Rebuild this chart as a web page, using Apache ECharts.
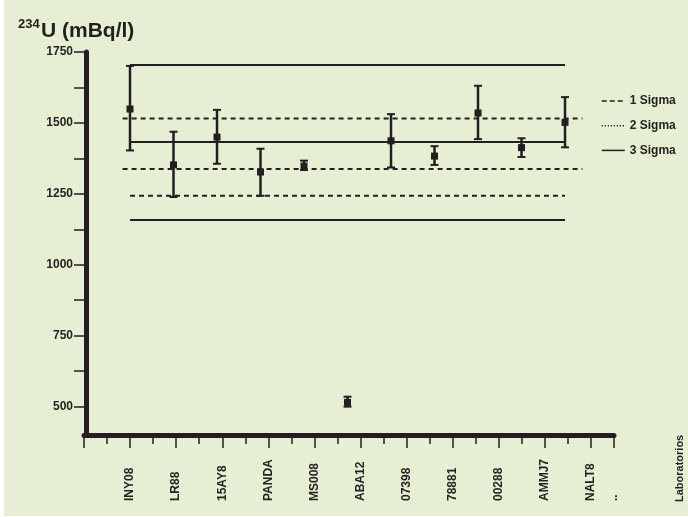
<!DOCTYPE html>
<html>
<head>
<meta charset="utf-8">
<script src="https://cdn.jsdelivr.net/npm/echarts@6/dist/echarts.min.js"></script>
<style>
html, body { margin: 0; padding: 0; background: #fff; }
#chart { position: absolute; left: 4px; top: 0; width: 684px; height: 516px; background: #e6efd4; }
</style>
</head>
<body>
<div id="chart"></div>
<script>
// laboratorios
const labs = ['INY08', 'LR88', '15AY8', 'PANDA', 'MS008', 'ABA12', '07398', '78881', '00288', 'AMMJ7', 'NALT8'];
const tailLabel = '..';
// 234U (mBq/l): limite inferior, valor, limite superior
const lower = [1403, 1239, 1356, 1243, 1334, 500, 1343, 1352, 1443, 1380, 1414];
const value = [1549, 1352, 1450, 1327, 1348, 515, 1437, 1383, 1535, 1413, 1502];
const upper = [1701, 1469, 1546, 1409, 1367, 535, 1531, 1418, 1631, 1446, 1591];
// lineas de referencia
const mean = 1433;
const sigma1 = [1516, 1338];
const sigma2 = [1243];
const sigma3 = [1704, 1158];
// ticks eje y
const yTicks = [500, 625, 750, 875, 1000, 1125, 1250, 1375, 1500, 1625, 1750];
const yLabels = [500, 750, 1000, 1250, 1500, 1750];

const ink = '#231f20';
const font = '"Liberation Sans", Arial, sans-serif';

// 24 posiciones de tick: etiqueta en las pares, '..' al final
const cats = [];
for (let j = 0; j < 24; j++) {
    if (j === 23) cats.push(tailLabel);
    else if (j >= 2 && j % 2 === 0) cats.push(labs[j / 2 - 1]);
    else cats.push('_' + j);
}

const spanShort = [0, labs.length - 1];
const spanLong = [-0.17, labs.length - 0.6];

function refLine(name, y, span, type) {
    return {
        type: 'line', name: name, xAxisIndex: 2, yAxisIndex: 0,
        data: [[span[0], y], [span[1], y]],
        symbol: 'none', silent: true,
        itemStyle: { color: ink },
        lineStyle: { color: ink, width: 2, type: type }
    };
}

const series = [
    refLine('3 Sigma', sigma3[0], spanShort, 'solid'),
    refLine('3 Sigma', mean, spanShort, 'solid'),
    refLine('3 Sigma', sigma3[1], spanShort, 'solid'),
    refLine('1 Sigma', sigma1[0], spanLong, [5, 4]),
    refLine('1 Sigma', sigma1[1], spanLong, [5, 4]),
    refLine('2 Sigma', sigma2[0], spanShort, [5, 4]),
    {
        type: 'custom', name: 'labs', xAxisIndex: 2, yAxisIndex: 0,
        encode: { x: 0, y: [1, 2, 3] },
        data: labs.map((n, i) => [i, lower[i], value[i], upper[i]]),
        renderItem: function (params, api) {
            const x = api.value(0);
            const lo = api.coord([x, api.value(1)]);
            const mid = api.coord([x, api.value(2)]);
            const hi = api.coord([x, api.value(3)]);
            const cap = 4;
            return {
                type: 'group',
                children: [
                    { type: 'line', shape: { x1: hi[0], y1: hi[1], x2: lo[0], y2: lo[1] }, style: { stroke: ink, lineWidth: 2.5 } },
                    { type: 'line', shape: { x1: hi[0] - cap, y1: hi[1], x2: hi[0] + cap, y2: hi[1] }, style: { stroke: ink, lineWidth: 2 } },
                    { type: 'line', shape: { x1: lo[0] - cap, y1: lo[1], x2: lo[0] + cap, y2: lo[1] }, style: { stroke: ink, lineWidth: 2 } },
                    { type: 'rect', shape: { x: mid[0] - 3.5, y: mid[1] - 3.5, width: 7, height: 7 }, style: { fill: ink } }
                ]
            };
        }
    }
];

const option = {
    animation: false,
    textStyle: { fontFamily: font },
    grid: { left: 80, right: 74, top: 52, bottom: 81, outerBoundsMode: 'none' },
    legend: {
        orient: 'vertical',
        left: 592,
        top: 90,
        itemWidth: 23,
        itemHeight: 14,
        itemGap: 12.7,
        selectedMode: false,
        itemStyle: { opacity: 0 },
        textStyle: { color: ink, fontWeight: 'bold', fontSize: 12, fontFamily: font },
        data: [
            { name: '1 Sigma', lineStyle: { type: [5, 3], width: 1.5 } },
            { name: '2 Sigma', lineStyle: { type: [1.2, 1.8], width: 1.5 } },
            { name: '3 Sigma', lineStyle: { width: 1.5 } }
        ]
    },
    graphic: [
        { type: 'text', left: 14, top: 18, style: { text: '234', fill: ink, font: 'bold 13px ' + font } },
        { type: 'text', left: 37, top: 21, style: { text: 'U (mBq/l)', fill: ink, font: 'bold 21px ' + font } },
        {
            type: 'text', x: 676, y: 502, rotation: Math.PI / 2,
            style: { text: 'Laboratorios', fill: ink, font: 'bold 11px ' + font, textAlign: 'left', textVerticalAlign: 'middle' }
        }
    ],
    xAxis: [
        {
            type: 'category', data: cats, boundaryGap: false, position: 'bottom',
            axisLine: { onZero: false, lineStyle: { color: ink, width: 5 } },
            axisTick: { interval: 0, length: 9, lineStyle: { color: ink, width: 1.5 } },
            axisLabel: {
                interval: 0, rotate: 90, align: 'left', margin: 66,
                color: ink, fontWeight: 'bold', fontSize: 12, fontFamily: font,
                formatter: v => (v.charAt(0) === '_' ? '' : v)
            },
            splitLine: { show: false }
        },
        {
            type: 'category', data: cats, boundaryGap: false, position: 'bottom',
            axisLine: { show: false, onZero: false },
            axisTick: { interval: i => i % 2 === 0 || i === 23, length: 13, lineStyle: { color: ink, width: 1.5 } },
            axisLabel: { show: false },
            splitLine: { show: false }
        },
        { type: 'value', show: false, min: -1.0575, max: 11.126 }
    ],
    yAxis: {
        type: 'value', min: 400, max: 1750, offset: -2,
        axisLine: { show: true, onZero: false, lineStyle: { color: ink, width: 5 } },
        axisTick: { show: true, customValues: yTicks, length: 12, lineStyle: { color: ink, width: 1.5 } },
        axisLabel: {
            customValues: yLabels, margin: 13, color: ink, fontWeight: 'bold', fontSize: 12, fontFamily: font,
            formatter: v => String(v)
        },
        splitLine: { show: false }
    },
    series: series
};

echarts.init(document.getElementById('chart')).setOption(option);
</script>
</body>
</html>
